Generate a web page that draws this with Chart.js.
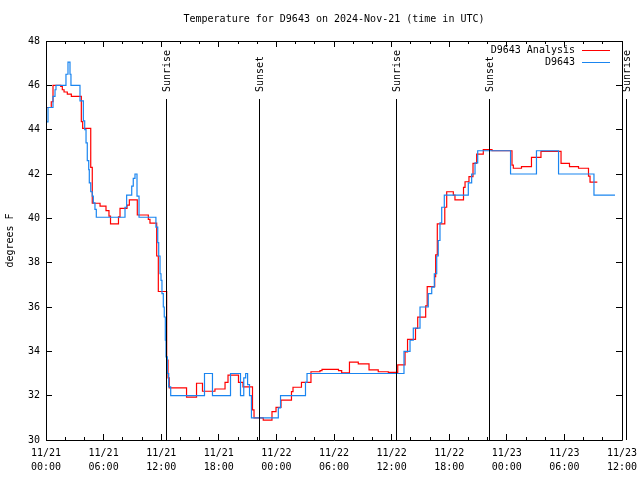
<!DOCTYPE html>
<html>
<head>
<meta charset="utf-8">
<script src="https://cdn.jsdelivr.net/npm/chart.js@4.4.1/dist/chart.umd.min.js"></script>
<style>
    html, body { margin: 0; padding: 0; background: #ffffff; }
</style>
</head>
<body>
<canvas id="tempChart" width="640" height="480"></canvas>
<script>
const FONT = "'DejaVu Sans Mono', 'Liberation Mono', monospace";

const titleText = 'Temperature for D9643 on 2024-Nov-21 (time in UTC)';
const yAxisTitle = 'degrees F';

// x axis is hours since 11/21 00:00 UTC
const xTickDates = ['11/21', '11/21', '11/21', '11/21', '11/22', '11/22', '11/22', '11/22', '11/23', '11/23', '11/23'];
const xTickTimes = ['00:00', '06:00', '12:00', '18:00', '00:00', '06:00', '12:00', '18:00', '00:00', '06:00', '12:00'];

// D9643 Analysis (red)
const analysisHours = [0, 0.55, 0.73, 1.53, 1.7, 1.88, 2.22, 2.64, 3.68, 3.82, 4.66, 4.82, 5.63, 6.25, 6.56, 6.72,
    7.55, 7.71, 8.44, 8.68, 9.51, 10.66, 10.83, 11.53, 11.7, 12.57, 12.71, 12.84, 14.64, 15.68, 16.3, 17.6,
    18.65, 18.96, 20.05, 20.52, 21.51, 21.67, 22.63, 23.54, 23.96, 24.48, 25.57, 25.73, 26.61, 27.6, 28.54,
    28.75, 30.47, 30.8, 31.61, 32.53, 33.65, 34.61, 35.66, 36.64, 37.4, 37.66, 38.49, 38.72, 39.55, 39.71,
    40.49, 40.59, 40.76, 41.54, 41.74, 42.43, 42.6, 43.49, 43.65, 44.06, 44.48, 44.86, 45.55, 46.46, 48.54,
    48.68, 49.53, 50.57, 51.56, 53.65, 54.53, 55.47, 56.51, 56.67, 57.43];
const analysisTemps = [45.0, 45.26, 46.0, 45.95, 45.8, 45.7, 45.6, 45.5, 44.36, 44.06, 42.3, 40.68, 40.55, 40.35, 40.1, 39.75,
    40.07, 40.45, 40.6, 40.83, 40.15, 39.95, 39.78, 38.3, 36.7, 33.6, 32.8, 32.35, 31.93, 32.56, 32.2, 32.3,
    32.6, 32.93, 32.6, 32.4, 31.36, 31.0, 30.9, 31.28, 31.47, 31.8, 32.18, 32.38, 32.6, 33.08, 33.13,
    33.19, 33.13, 33.03, 33.51, 33.43, 33.16, 33.08, 33.05, 33.39, 33.98, 34.54, 35.04, 35.54, 36.05, 36.92,
    37.37, 38.35, 39.75, 40.5, 41.2, 41.05, 40.83, 41.4, 41.65, 41.88, 42.48, 42.9, 43.1, 43.05, 42.4,
    42.26, 42.33, 42.75, 43.02, 42.48, 42.33, 42.26, 41.9, 41.63, 41.63];

// D9643 observations (blue)
const obHours = [0, 0.21, 0.73, 0.94, 1.04, 2.08, 2.29, 2.5, 2.6, 3.54, 3.89, 4.03, 4.17, 4.3, 4.45, 4.51, 4.66,
    4.82, 4.93, 5.1, 5.24, 8.23, 8.4, 8.93, 9.09, 9.27, 9.48, 9.69, 11.45, 11.64, 11.74, 11.88, 11.98, 12.08,
    12.22, 12.32, 12.43, 12.5, 12.64, 12.78, 12.99, 16.51, 17.34, 19.22, 20.26, 20.6, 20.8, 21.0, 21.2, 21.4,
    24.2, 24.43, 27.03, 27.19, 37.29, 37.92, 38.26, 38.96, 39.82, 40.18, 40.45, 40.7, 40.86, 41.04, 41.22,
    41.49, 43.99, 44.34, 44.69, 44.97, 48.39, 51.09, 53.39, 57.08, 59.27];
const obTemps = [44.35, 45.0, 45.5, 45.8, 46.0, 46.5, 47.05, 46.5, 46.0, 45.3, 44.4, 44.0, 43.4, 42.6, 42.2, 41.6, 41.2,
    41.0, 40.7, 40.4, 40.05, 40.5, 41.05, 41.45, 41.8, 42.0, 41.0, 40.05, 39.6, 38.9, 38.3, 37.5, 37.2, 36.6,
    36.0, 35.55, 34.5, 33.75, 33.0, 32.4, 32.0, 33.0, 32.0, 33.0, 32.0, 32.8, 33.0, 32.5, 32.0, 31.0,
    31.45, 32.0, 32.6, 33.0, 34.0, 34.5, 35.05, 36.0, 36.6, 36.9, 37.5, 38.3, 39.0, 39.8, 40.5,
    41.05, 41.6, 42.0, 42.5, 43.05, 42.0, 43.05, 42.0, 41.05, 41.05];

const sunEventHours = [12.54, 22.22, 36.49, 46.18, 60.52];
const sunEventLabels = ['Sunrise', 'Sunset', 'Sunrise', 'Sunset', 'Sunrise'];

const toPoints = (xs, ys) => xs.map((x, i) => ({ x: x, y: ys[i] }));

// gnuplot-ish frame: border, inward ticks, sun lines, legend
const gnuplotFrame = {
    id: 'gnuplotFrame',
    afterDraw(chart) {
        const ctx = chart.ctx;
        const area = chart.chartArea;
        const xs = chart.scales.x;
        const ys = chart.scales.y;
        const px = v => Math.floor(v) + 0.5;

        ctx.save();
        ctx.strokeStyle = '#000000';
        ctx.lineWidth = 1;

        ctx.beginPath();
        ctx.rect(px(area.left), px(area.top), Math.round(area.right - area.left), Math.round(area.bottom - area.top));
        ctx.stroke();

        ctx.beginPath();
        for (let v = 30; v <= 48; v += 2) {
            const y = px(ys.getPixelForValue(v));
            ctx.moveTo(area.left, y); ctx.lineTo(area.left + 6, y);
            ctx.moveTo(area.right, y); ctx.lineTo(area.right - 6, y);
        }
        for (let h = 0; h <= 60; h += 2) {
            const x = px(xs.getPixelForValue(h));
            const len = h % 6 === 0 ? 6 : 3;
            ctx.moveTo(x, area.bottom); ctx.lineTo(x, area.bottom - len);
            ctx.moveTo(x, area.top); ctx.lineTo(x, area.top + len);
        }
        ctx.stroke();

        // sunrise / sunset markers
        ctx.font = '10px ' + FONT;
        ctx.fillStyle = '#000000';
        sunEventHours.forEach((h, i) => {
            const x = px(xs.getPixelForValue(h));
            ctx.beginPath();
            ctx.moveTo(x, 99);
            ctx.lineTo(x, area.bottom);
            ctx.stroke();
            ctx.save();
            ctx.translate(x + 1, 92);
            ctx.rotate(-Math.PI / 2);
            ctx.textAlign = 'left';
            ctx.textBaseline = 'middle';
            ctx.fillText(sunEventLabels[i], 0, 0);
            ctx.restore();
        });

        // legend, gnuplot style (text then sample line)
        chart.data.datasets.forEach((ds, i) => {
            const y = 50 + i * 12.7;
            ctx.textAlign = 'right';
            ctx.textBaseline = 'middle';
            ctx.fillStyle = '#000000';
            ctx.fillText(ds.label, 575, y);
            ctx.strokeStyle = ds.borderColor;
            ctx.beginPath();
            ctx.moveTo(582, Math.floor(y) + 0.5);
            ctx.lineTo(610, Math.floor(y) + 0.5);
            ctx.stroke();
        });
        ctx.restore();
    }
};

Chart.defaults.font.family = FONT;
Chart.defaults.font.size = 10;
Chart.defaults.color = '#000000';

new Chart(document.getElementById('tempChart').getContext('2d'), {
    type: 'line',
    data: {
        datasets: [
            {
                label: 'D9643 Analysis',
                data: toPoints(analysisHours, analysisTemps),
                borderColor: '#ff0000',
                borderWidth: 1.2,
                stepped: true,
                pointRadius: 0,
                fill: false,
                order: 1
            },
            {
                label: 'D9643',
                data: toPoints(obHours, obTemps),
                borderColor: '#1a85f0',
                borderWidth: 1.2,
                stepped: true,
                pointRadius: 0,
                fill: false,
                order: 0
            }
        ]
    },
    options: {
        responsive: false,
        animation: false,
        layout: { padding: { left: 0, right: 18, top: 0, bottom: 0 } },
        plugins: {
            legend: { display: false },
            tooltip: { enabled: false },
            title: {
                display: true,
                text: titleText,
                fullSize: false,
                color: '#000000',
                font: { size: 10, weight: 'normal', lineHeight: 1.2 },
                padding: { top: 13, bottom: 16 }
            }
        },
        scales: {
            x: {
                type: 'linear',
                min: 0,
                max: 60,
                grid: { display: false, drawTicks: false },
                border: { display: false },
                ticks: {
                    stepSize: 6,
                    autoSkip: false,
                    maxRotation: 0,
                    padding: 6,
                    font: { size: 10, lineHeight: 1.4 },
                    callback: function(value, index) {
                        const i = Math.round(value / 6);
                        return [xTickDates[i], xTickTimes[i]];
                    }
                },
                afterFit: function(scale) {
                    scale.height = 40;
                    scale.paddingLeft = 0;
                    scale.paddingRight = 0;
                }
            },
            y: {
                min: 30,
                max: 48,
                grid: { display: false, drawTicks: false },
                border: { display: false },
                ticks: { stepSize: 2, padding: 6, font: { size: 10 } },
                title: {
                    display: true,
                    text: yAxisTitle,
                    font: { size: 10, lineHeight: 1.2 },
                    padding: { top: 4, bottom: 0 }
                },
                afterFit: function(scale) { scale.width = 46; }
            }
        }
    },
    plugins: [gnuplotFrame]
});
</script>
</body>
</html>
